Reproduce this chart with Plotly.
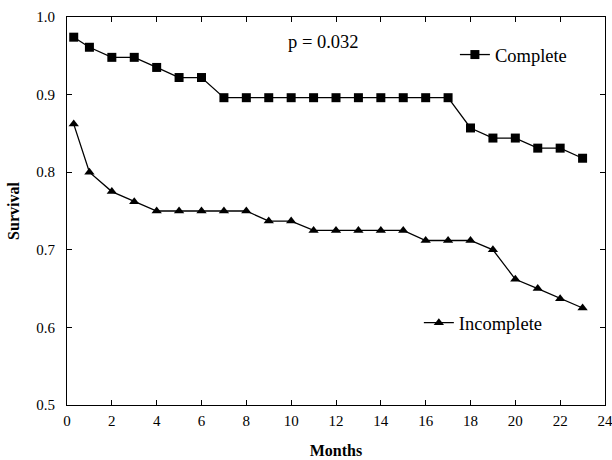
import plotly.graph_objects as go

complete_months = [0.3, 1, 2, 3, 4, 5, 6, 7, 8, 9, 10, 11, 12, 13, 14, 15, 16, 17, 18, 19, 20, 21, 22, 23]
complete_surv = [0.974, 0.961, 0.948, 0.948, 0.935, 0.922, 0.922, 0.896, 0.896, 0.896, 0.896, 0.896,
                 0.896, 0.896, 0.896, 0.896, 0.896, 0.896, 0.857, 0.844, 0.844, 0.831, 0.831, 0.818]
incomplete_months = [0.3, 1, 2, 3, 4, 5, 6, 7, 8, 9, 10, 11, 12, 13, 14, 15, 16, 17, 18, 19, 20, 21, 22, 23]
incomplete_surv = [0.862, 0.800, 0.775, 0.762, 0.750, 0.750, 0.750, 0.750, 0.750, 0.737, 0.737, 0.725,
                   0.725, 0.725, 0.725, 0.725, 0.712, 0.712, 0.712, 0.700, 0.662, 0.650, 0.637, 0.625]
x_ticks = list(range(0, 25, 2))
y_ticks = [0.5, 0.6, 0.7, 0.8, 0.9, 1.0]

FONT = "Liberation Serif"

fig = go.Figure()
fig.add_trace(go.Scatter(x=complete_months, y=complete_surv, mode="lines+markers", name="Complete",
                         line=dict(color="black", width=1.3),
                         marker=dict(symbol="square", size=9, color="black"), legend="legend"))
fig.add_trace(go.Scatter(x=incomplete_months, y=incomplete_surv, mode="lines+markers", name="Incomplete",
                         line=dict(color="black", width=1.3),
                         marker=dict(symbol="triangle-up", size=9, color="black"), legend="legend2"))

axis_common = dict(showline=True, linecolor="black", linewidth=1.2, mirror="ticks", ticks="inside",
                   ticklen=5, tickcolor="black", showgrid=False, zeroline=False, automargin=False,
                   ticklabeloverflow="allow",
                   tickfont=dict(family=FONT, size=15, color="black"))

fig.update_layout(
    width=612, height=460,
    margin=dict(l=67, r=7, t=17, b=55),
    paper_bgcolor="white", plot_bgcolor="white",
    font=dict(family=FONT, color="black"),
    xaxis=dict(range=[0, 24], tickvals=x_ticks, ticklabelstandoff=2,
               title=dict(text="<b>Months</b>", font=dict(family=FONT, size=16), standoff=16),
               **axis_common),
    yaxis=dict(range=[0.5, 1.0], tickvals=y_ticks, tickformat=".1f", ticklabelstandoff=8,
               title=dict(text="<b>Survival</b>", font=dict(family=FONT, size=16), standoff=12),
               **axis_common),
    legend=dict(x=0.721, y=0.902, xanchor="left", yanchor="middle", bgcolor="rgba(0,0,0,0)",
                font=dict(family=FONT, size=18.5), itemwidth=30, tracegroupgap=0),
    legend2=dict(x=0.654, y=0.211, xanchor="left", yanchor="middle", bgcolor="rgba(0,0,0,0)",
                 font=dict(family=FONT, size=18.5), itemwidth=30, tracegroupgap=0),
    showlegend=True,
)
fig.add_annotation(x=11.44, y=0.968, xref="x", yref="y", text="p = 0.032", showarrow=False,
                   font=dict(family=FONT, size=18.5, color="black"))

page_js = ("document.documentElement.style.margin='0px';"
           "document.documentElement.style.overflow='hidden';"
           "document.body.style.margin='0px';"
           "document.body.style.padding='0px';"
           "document.body.style.overflow='hidden';")
fig.write_html("out.html", config={"displayModeBar": False}, post_script=page_js)
